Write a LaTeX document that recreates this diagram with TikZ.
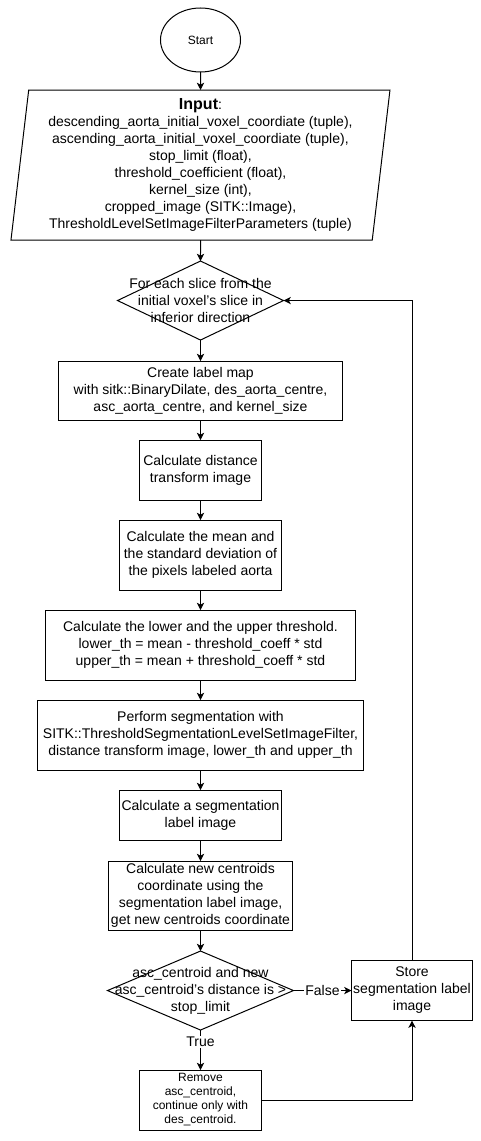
\documentclass[tikz,border=0pt]{standalone}
\usepackage{fontspec}
\setmainfont{Liberation Sans}
\usetikzlibrary{arrows.meta,positioning}
\usetikzlibrary{shapes.geometric}

\begin{document}
\begin{tikzpicture}[
  node distance=15pt,
  line width=0.75pt,
  every node/.style = {align=center,
    font=\fontsize{10.5pt}{12.75pt}\selectfont},
  process/.style = {draw, rectangle, inner sep=1pt, outer sep=0pt},
  decision/.style = {draw, diamond, inner sep=0pt, outer sep=0pt},
  io/.style = {draw, trapezium, trapezium left angle=82.4,
    trapezium right angle=97.6, trapezium stretches body,
    inner sep=0pt, outer sep=0pt},
  flow/.style = {-{Stealth[length=5.5pt,width=5.5pt,inset=1.5pt]}}]
  \useasboundingbox (-150.375pt,30pt) rectangle (210.375pt,-825.75pt);
  \node[draw, ellipse, minimum width=60pt, minimum height=48pt, inner sep=0pt,
    outer sep=0pt, font=\fontsize{9pt}{10.5pt}\selectfont] (start) at (0,0) {Start};
  \node[io, minimum width=284.25pt, minimum height=112.5pt,
    below=13.5pt of start] (input)
    {{\fontsize{12pt}{14pt}\selectfont\bfseries Input}:\\
     descending\_aorta\_initial\_voxel\_coordiate (tuple),\\
     ascending\_aorta\_initial\_voxel\_coordiate (tuple),\\
     stop\_limit (float),\\
     threshold\_coefficient (float),\\
     kernel\_size (int),\\
     cropped\_image (SITK::Image),\\
     ThresholdLevelSetImageFilterParameters (tuple)};
  \node[decision, minimum width=124.5pt, minimum height=59.25pt,
    below=15.75pt of input,
    label={center:{For each slice from the\\initial voxel's slice in\\inferior direction}}] (loop) {};
  \node[process, minimum width=213pt, minimum height=44.25pt,
    below=15.75pt of loop] (dilate)
    {Create label map\\with sitk::BinaryDilate, des\_aorta\_centre,\\asc\_aorta\_centre, and kernel\_size};
  \node[process, minimum width=90.75pt, minimum height=45pt,
    below=of dilate] (dist) {Calculate distance\\transform image};
  \node[process, minimum width=120.75pt, minimum height=52.5pt,
    below=of dist] (stats)
    {Calculate the mean and\\the standard deviation of\\the pixels labeled aorta};
  \node[process, minimum width=232.5pt, minimum height=52.5pt,
    below=of stats] (thresh)
    {Calculate the lower and the upper threshold.\\lower\_th = mean - threshold\_coeff * std\\upper\_th = mean + threshold\_coeff * std};
  \node[process, minimum width=243.75pt, minimum height=52.5pt,
    below=of thresh] (seg)
    {Perform segmentation with\\SITK::ThresholdSegmentationLevelSetImageFilter,\\distance transform image, lower\_th and upper\_th};
  \node[process, minimum width=121.5pt, minimum height=37.5pt,
    below=of seg] (segimg) {Calculate a segmentation\\label image};
  \node[process, minimum width=138pt, minimum height=51.75pt,
    below=15.75pt of segimg] (centroid)
    {Calculate new centroids\\coordinate using the\\segmentation label image,\\get new centroids coordinate};
  \node[decision, minimum width=139.5pt, minimum height=59.25pt,
    below=15.75pt of centroid,
    label={center:{asc\_centroid and new\\asc\_centroid's distance is >\\stop\_limit}}] (check) {};
  \node[process, minimum width=90.75pt, minimum height=45pt,
    below=30pt of check, font=\fontsize{9pt}{10.5pt}\selectfont] (remove)
    {Remove\\asc\_centroid,\\continue only with\\des\_centroid.};
  \node[process, minimum width=90.75pt, minimum height=45pt,
    right=43.5pt of check] (store) {Store\\segmentation label\\image};

  \draw[flow] (start) -- (input);
  \draw[flow] (input) -- (loop);
  \draw[flow] (loop) -- (dilate);
  \draw[flow] (dilate) -- (dist);
  \draw[flow] (dist) -- (stats);
  \draw[flow] (stats) -- (thresh);
  \draw[flow] (thresh) -- (seg);
  \draw[flow] (seg) -- (segimg);
  \draw[flow] (segimg) -- (centroid);
  \draw[flow] (centroid) -- (check);
  \draw[flow] (check) -- node[fill=white, inner sep=1pt] {False} (store);
  \draw[flow] (check) -- node[pos=0.3, fill=white, inner sep=1pt] {True} (remove);
  \draw[flow] (remove) -| (store);
  \draw[flow] (store) |- (loop);
\end{tikzpicture}
\end{document}
